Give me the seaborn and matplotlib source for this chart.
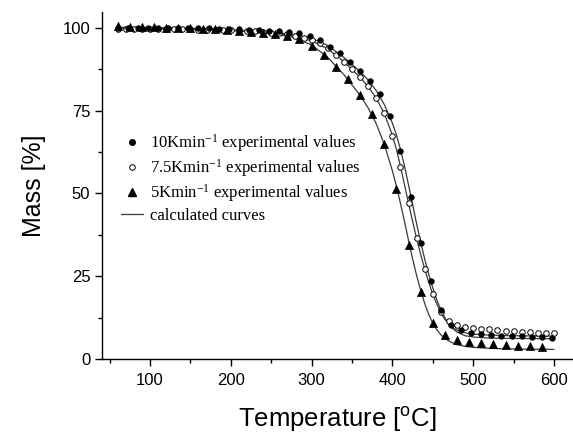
import numpy as np
import pandas as pd
import matplotlib
matplotlib.use("Agg")
import matplotlib.pyplot as plt
from matplotlib.lines import Line2D
from matplotlib.ticker import MultipleLocator
import seaborn as sns

# ---- experimental data ----
t_5K = [60, 75, 90, 105, 120, 135, 150, 165, 180, 195, 210, 225, 240, 255, 270, 285,
        300, 315, 330, 345, 360, 375, 390, 405, 420, 435, 450, 465, 480, 495, 510, 525,
        540, 555, 570, 585]
m_5K = [100.4, 100.3, 100.2, 100.1, 100.0, 99.9, 99.8, 99.7, 99.5, 99.3, 99.1, 98.8,
        98.5, 98.1, 97.6, 96.6, 94.5, 91.7, 88.2, 84.4, 79.7, 73.8, 65.0, 51.3, 34.5,
        20.4, 11.0, 7.3, 5.9, 5.3, 4.9, 4.6, 4.3, 4.1, 3.9, 3.7]

t_10K = [60, 72.5, 85, 97.5, 110, 122.5, 135, 147.5, 160, 172.5, 185, 197.5, 210, 222.5,
         235, 247.5, 260, 272.5, 285, 297.5, 310, 322.5, 335, 347.5, 360, 372.5, 385,
         397.5, 410, 422.5, 435, 447.5, 460, 472.5, 485, 497.5, 510, 522.5, 535, 547.5,
         560, 572.5, 585, 597.5]
m_10K = [100.0, 100.0, 100.0, 100.0, 100.0, 99.9, 99.9, 99.9, 99.8, 99.8, 99.7, 99.6,
         99.5, 99.4, 99.3, 99.1, 98.9, 98.7, 98.3, 97.6, 96.3, 94.2, 92.2, 89.6, 87.0,
         84.0, 79.9, 73.4, 62.9, 49.0, 35.2, 23.5, 14.9, 10.4, 8.9, 8.0, 7.5, 7.3, 7.1,
         7.0, 6.9, 6.8, 6.6, 6.4]

t_75K = [60, 70, 80, 90, 100, 110, 120, 130, 140, 150, 160, 170, 180, 190, 200, 210,
         220, 230, 240, 250, 260, 270, 280, 290, 300, 310, 320, 330, 340, 350, 360, 370,
         380, 390, 400, 410, 420, 430, 440, 450, 460, 470, 480, 490, 500, 510, 520, 530,
         540, 550, 560, 570, 580, 590, 600]
m_75K = [99.6, 99.6, 99.6, 99.6, 99.6, 99.6, 99.6, 99.5, 99.5, 99.5, 99.4, 99.4, 99.3,
         99.3, 99.2, 99.1, 99.0, 98.9, 98.7, 98.5, 98.3, 98.0, 97.5, 97.0, 96.3, 95.3,
         93.8, 91.8, 89.7, 87.5, 85.0, 82.4, 78.9, 74.2, 67.4, 58.0, 47.0, 36.5, 27.1,
         19.7, 14.4, 11.5, 10.3, 9.8, 9.5, 9.2, 9.0, 8.8, 8.6, 8.4, 8.3, 8.1, 8.0, 7.9, 7.8]

# ---- calculated curves ----
t_calc = [60, 100, 150, 200, 250, 275, 300, 320, 340, 360, 370, 380, 390, 400, 405, 410,
          415, 420, 425, 430, 435, 440, 445, 450, 455, 460, 465, 470, 475, 480, 490, 500,
          520, 540, 570, 600]
c_5K = [100.1, 100.0, 99.8, 99.3, 98.2, 97.2, 94.8, 91.0, 85.8, 79.6, 75.8, 71.0, 64.8,
        56.8, 52.2, 47.0, 41.5, 35.8, 30.3, 25.2, 20.8, 16.8, 13.5, 10.9, 8.9, 7.4, 6.3,
        5.5, 4.9, 4.4, 3.9, 3.6, 3.3, 3.15, 3.05, 3.0]
c_75K = [99.8, 99.7, 99.5, 99.1, 98.3, 97.6, 96.0, 93.6, 89.7, 85.0, 82.2, 78.7, 74.0,
         67.6, 63.3, 58.2, 52.6, 47.0, 41.6, 36.4, 31.6, 27.2, 23.2, 19.6, 16.6, 14.0,
         12.0, 10.5, 9.5, 8.8, 8.0, 7.6, 7.3, 7.15, 7.05, 7.0]
c_10K = [99.9, 99.9, 99.7, 99.3, 98.6, 98.0, 96.8, 94.6, 91.0, 86.8, 84.2, 81.0, 76.8,
         71.2, 67.6, 63.3, 58.2, 52.5, 46.7, 40.8, 35.3, 30.2, 25.6, 21.5, 17.9, 14.9,
         12.5, 10.6, 9.2, 8.2, 7.1, 6.7, 6.4, 6.3, 6.25, 6.2]

legend_labels = [r"10Kmin$\mathregular{^{-1}}$ experimental values",
                 r"7.5Kmin$\mathregular{^{-1}}$ experimental values",
                 r"5Kmin$\mathregular{^{-1}}$ experimental values",
                 "calculated curves"]

sns.set_style("ticks")
plt.rcParams["font.family"] = ["Liberation Sans", "DejaVu Sans"]
plt.rcParams["text.color"] = "black"
plt.rcParams["axes.labelcolor"] = "black"
plt.rcParams["xtick.color"] = "black"
plt.rcParams["ytick.color"] = "black"

fig = plt.figure(figsize=(5.73, 4.34), dpi=100)
ax = fig.add_axes([101.5 / 573, (434 - 359.3) / 434, (573 - 101.5) / 573, (359.3 - 12) / 434])

line_col = "#3a3a3a"
for c in (c_5K, c_75K, c_10K):
    df = pd.DataFrame({"T": t_calc, "m": c})
    sns.lineplot(data=df, x="T", y="m", ax=ax, color=line_col, linewidth=0.9,
                 sort=False, estimator=None)

sns.scatterplot(data=pd.DataFrame({"T": t_75K, "m": m_75K}), x="T", y="m", ax=ax,
                marker="o", s=16, facecolor="white", edgecolor="black", linewidth=0.7, zorder=3)
sns.scatterplot(data=pd.DataFrame({"T": t_10K, "m": m_10K}), x="T", y="m", ax=ax,
                marker="o", s=16, color="black", edgecolor="black", linewidth=0.5, zorder=4)
sns.scatterplot(data=pd.DataFrame({"T": t_5K, "m": m_5K}), x="T", y="m", ax=ax,
                marker="^", s=34, color="black", edgecolor="black", linewidth=0.5, zorder=4)

ax.set_xlim(40, 623.5)
ax.set_ylim(0, 104.7)
ax.xaxis.set_major_locator(MultipleLocator(100))
ax.xaxis.set_minor_locator(MultipleLocator(50))
ax.yaxis.set_major_locator(MultipleLocator(25))
ax.yaxis.set_minor_locator(MultipleLocator(12.5))
ax.tick_params(which="major", direction="out", length=5, width=1, labelsize=12,
               color="black", labelcolor="black")
ax.tick_params(which="minor", direction="out", length=3, width=1, color="black")
ax.tick_params(axis="y", which="major", pad=3)
ax.tick_params(axis="x", which="major", pad=5)
ax.set_xticks([100, 200, 300, 400, 500, 600])
for s in ("top", "right"):
    ax.spines[s].set_visible(False)
for s in ("left", "bottom"):
    ax.spines[s].set_linewidth(1.0)
    ax.spines[s].set_color("black")

ax.set_xlabel(r"Temperature [$\mathregular{^{o}}$C]", fontsize=18.5, labelpad=12, color="black")
ax.set_ylabel("Mass [%]", fontsize=18, labelpad=12, color="black")

handles = [
    Line2D([], [], linestyle="none", marker="o", markersize=4, color="black"),
    Line2D([], [], linestyle="none", marker="o", markersize=4, markerfacecolor="white",
           markeredgecolor="black", markeredgewidth=0.7),
    Line2D([], [], linestyle="none", marker="^", markersize=5.5, color="black"),
    Line2D([], [], color=line_col, linewidth=0.9),
]
leg = ax.legend(handles, legend_labels, loc="upper left",
                bbox_to_anchor=(121 / 573, 1 - 132 / 434), bbox_transform=fig.transFigure,
                frameon=False, borderpad=0, borderaxespad=0, handlelength=1.3,
                handletextpad=0.45, labelspacing=0.2,
                prop={"family": "Liberation Serif", "size": 12})
for t in leg.get_texts():
    t.set_color("black")

fig.savefig("out.png", dpi=100)
